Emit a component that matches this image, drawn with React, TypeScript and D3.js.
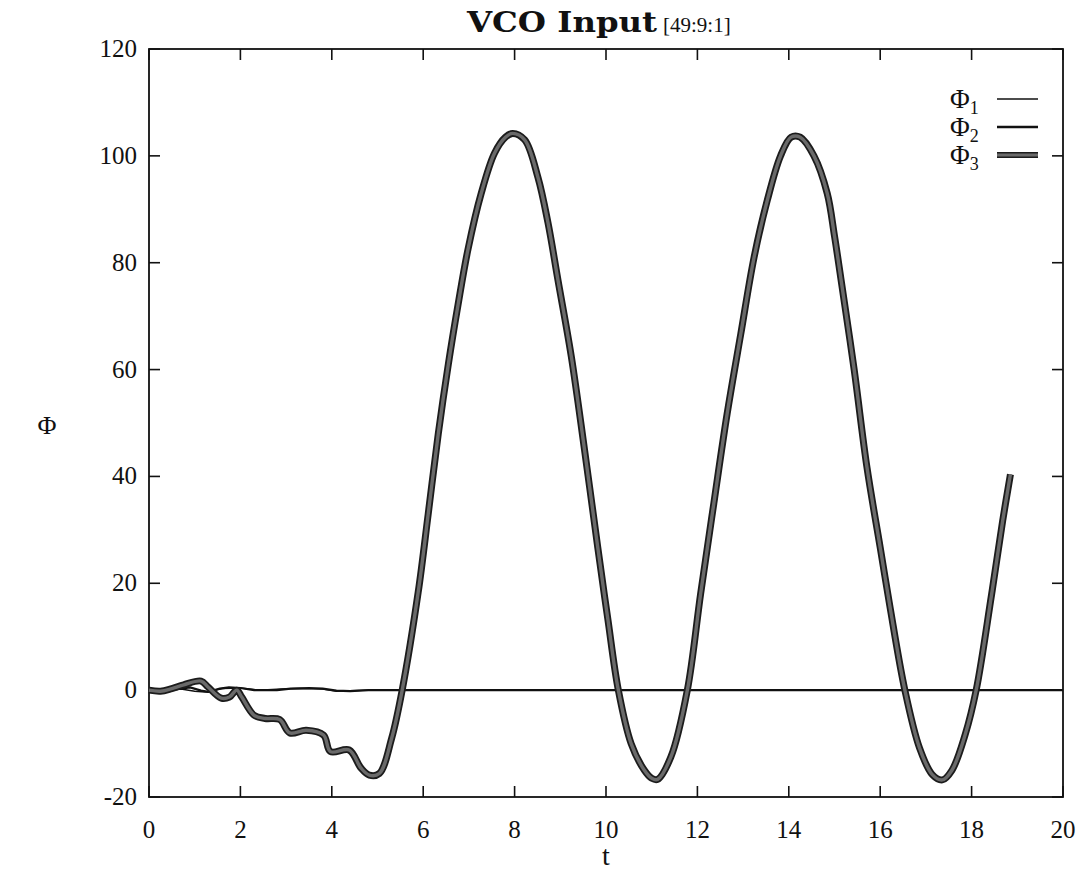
import React from "react";
import * as d3 from "d3";

const xTicks = [0, 2, 4, 6, 8, 10, 12, 14, 16, 18, 20];
const yTicks = [-20, 0, 20, 40, 60, 80, 100, 120];

const phi1T = [0, 0.3, 0.7, 1.0, 1.3, 1.6, 2.0, 2.4, 2.9, 3.3, 3.8, 4.1, 4.4, 4.8, 20];
const phi1V = [0, -0.1, 0.2, -0.2, -0.4, 0.3, 0.4, 0.0, 0.2, 0.3, 0.2, -0.2, -0.1, 0, 0];

const phi2T = [0, 0.3, 0.6, 0.9, 1.14, 1.3, 1.55, 1.75, 2.0, 2.3, 2.8, 3.1, 3.5, 3.8, 4.1, 4.4, 4.8, 20];
const phi2V = [0, -0.3, 0.2, 0.5, -0.1, -0.3, 0.3, 0.5, 0.4, 0, 0, 0.3, 0.4, 0.3, -0.1, -0.2, 0, 0];

const phi3T = [0, 0.25, 0.5, 0.76, 1.14, 1.29, 1.58, 1.76, 1.92, 2.03, 2.3, 2.54, 2.86, 3.08, 3.44, 3.82, 3.97, 4.38, 4.64, 4.82, 5.04, 5.31, 5.54, 5.89, 6.11, 6.33, 6.55, 6.76, 6.98, 7.27, 7.56, 7.8, 7.96, 8.22, 8.51, 8.73, 8.95, 9.24, 9.53, 9.82, 10.04, 10.27, 10.55, 10.84, 11.0, 11.13, 11.42, 11.78, 12.07, 12.36, 12.65, 12.95, 13.24, 13.53, 13.82, 14.05, 14.25, 14.55, 14.84, 15.0, 15.14, 15.43, 15.71, 16.0, 16.21, 16.54, 16.86, 17.14, 17.36, 17.57, 17.86, 18.1, 18.43, 18.68, 18.85];
const phi3V = [0, -0.2, 0.3, 1.0, 1.7, 0.6, -1.5, -1.3, 0, -1.3, -4.7, -5.3, -5.5, -8, -7.5, -8.4, -11.5, -11.2, -14.6, -15.9, -15.6, -9, 0, 18.3, 33, 48, 61, 72, 82.5, 93, 100.5, 103.5, 104.2, 103, 96, 87.5, 76.7, 62.5, 45, 26.7, 13.3, 0, -10, -15, -16.5, -16.7, -12.5, 0, 18, 35, 51.7, 66.7, 81, 91.7, 100, 103.5, 103.5, 100, 93, 85, 77, 60, 41.7, 26.7, 15.8, 0, -10.8, -15.8, -16.8, -15, -8.3, 0, 17.5, 31.7, 40.4];

const legendNames = ["1", "2", "3"];

const FONT = "Liberation Serif, Times New Roman, serif";

export default function App() {
  const left = 149, right = 1063, top = 49, bottom = 797;
  const x = d3.scaleLinear().domain([0, 20]).range([left, right]);
  const y = d3.scaleLinear().domain([-20, 120]).range([bottom, top]);
  const line = d3
    .line<[number, number]>()
    .x((d) => x(d[0]))
    .y((d) => y(d[1]));
  const smooth = d3
    .line<[number, number]>()
    .x((d) => x(d[0]))
    .y((d) => y(d[1]))
    .curve(d3.curveCatmullRom.alpha(0.5));
  const zip = (ts: number[], vs: number[]) => ts.map((t, i) => [t, vs[i]] as [number, number]);
  const p1 = line(zip(phi1T, phi1V)) || "";
  const p2 = line(zip(phi2T, phi2V)) || "";
  const p3 = smooth(zip(phi3T, phi3V)) || "";
  const tickLen = 11;
  const legendY = [99, 127, 155];

  return (
    <svg width={1082} height={872} style={{ position: "absolute", left: 0, top: 0, background: "#fff" }}>
      <rect x={0} y={0} width={1082} height={872} fill="#fff" />
      {/* title */}
      <text x={467} y={32} fontFamily="DejaVu Serif, serif" fontWeight="bold" fontSize={27} fill="#111" textLength={190} lengthAdjust="spacingAndGlyphs">
        VCO Input
      </text>
      <text x={663} y={32} fontFamily={FONT} fontSize={21} fill="#111">
        [49:9:1]
      </text>

      {/* frame */}
      <rect x={left} y={top} width={right - left} height={bottom - top} fill="none" stroke="#111" strokeWidth={1.8} />

      {/* ticks */}
      {xTicks.map((t) => (
        <g key={"xt" + t}>
          <line x1={x(t)} x2={x(t)} y1={bottom} y2={bottom - tickLen} stroke="#111" strokeWidth={1.6} />
          <line x1={x(t)} x2={x(t)} y1={top} y2={top + tickLen} stroke="#111" strokeWidth={1.6} />
          <text x={x(t)} y={838} textAnchor="middle" fontFamily={FONT} fontSize={25} fill="#111">
            {t}
          </text>
        </g>
      ))}
      {yTicks.map((v) => (
        <g key={"yt" + v}>
          <line x1={left} x2={left + tickLen} y1={y(v)} y2={y(v)} stroke="#111" strokeWidth={1.6} />
          <line x1={right} x2={right - tickLen} y1={y(v)} y2={y(v)} stroke="#111" strokeWidth={1.6} />
          <text x={137} y={y(v) + 8} textAnchor="end" fontFamily={FONT} fontSize={25} fill="#111">
            {v}
          </text>
        </g>
      ))}

      {/* axis labels */}
      <text x={606} y={865} textAnchor="middle" fontFamily={FONT} fontSize={28} fill="#111">t</text>
      <text x={47} y={434} textAnchor="middle" fontFamily={FONT} fontSize={26} fill="#111">Φ</text>

      {/* series */}
      <path d={p1} fill="none" stroke="#111" strokeWidth={1.4} />
      <path d={p2} fill="none" stroke="#111" strokeWidth={2.2} />
      <path d={p3} fill="none" stroke="#1c1c1c" strokeWidth={7} strokeLinejoin="round" />
      <path d={p3} fill="none" stroke="#6a6a6a" strokeWidth={3.4} strokeLinejoin="round" />

      {/* legend */}
      {legendNames.map((n, i) => (
        <g key={"lg" + n}>
          <text x={950} y={legendY[i] + 9} fontFamily={FONT} fontSize={27} fill="#111">
            Φ
            <tspan fontSize={18} dy={6}>{n}</tspan>
          </text>
          {i === 0 && <line x1={997} x2={1038} y1={legendY[i]} y2={legendY[i]} stroke="#111" strokeWidth={1.4} />}
          {i === 1 && <line x1={997} x2={1038} y1={legendY[i]} y2={legendY[i]} stroke="#111" strokeWidth={2.4} />}
          {i === 2 && (
            <g>
              <line x1={997} x2={1038} y1={legendY[i]} y2={legendY[i]} stroke="#1c1c1c" strokeWidth={6} />
              <line x1={997} x2={1038} y1={legendY[i]} y2={legendY[i]} stroke="#6a6a6a" strokeWidth={2.8} />
            </g>
          )}
        </g>
      ))}
    </svg>
  );
}
